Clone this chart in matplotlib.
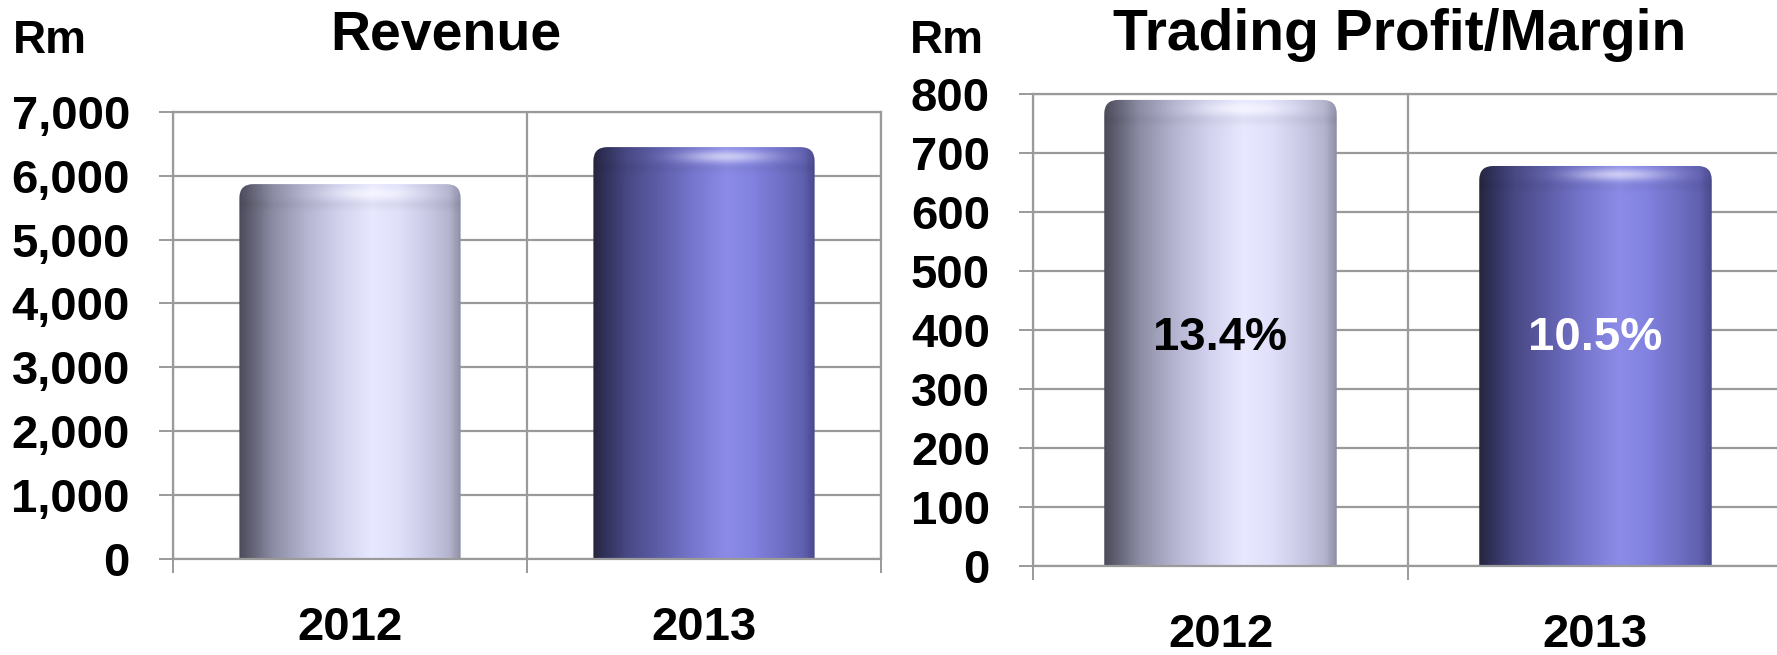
import numpy as np
import matplotlib
matplotlib.use("Agg")
import matplotlib.pyplot as plt
from matplotlib.colors import LinearSegmentedColormap
from matplotlib.patches import FancyBboxPatch

plt.rcParams["font.family"] = ["Liberation Sans", "DejaVu Sans"]
plt.rcParams["font.weight"] = "bold"

years = ["2012", "2013"]
revenue = [5870, 6450]
trading_profit = [790, 678]
margins = ["13.4%", "10.5%"]
margin_colors = ["black", "white"]

GRID = "#9a9a9a"
DPI = 100
FIG_W, FIG_H = 1777, 655

# light silver-lavender and deep periwinkle cylinder shading, left to right
light_stops = [(0.0, "#4c4c5c"), (0.04, "#5c5c6e"), (0.15, "#8c8ca4"),
               (0.30, "#b4b4d0"), (0.45, "#d2d2ee"), (0.60, "#e8e8ff"),
               (0.72, "#e0e0fa"), (0.85, "#cacae6"), (0.95, "#b4b4ce"),
               (1.0, "#9090a8")]
dark_stops = [(0.0, "#26263e"), (0.04, "#2e2e56"), (0.15, "#484884"),
              (0.30, "#5e5eaa"), (0.45, "#7676ce"), (0.60, "#8c8ce8"),
              (0.72, "#8282e0"), (0.85, "#7070c6"), (0.95, "#6060b0"),
              (1.0, "#4a4a8e")]
bar_maps = [LinearSegmentedColormap.from_list("light", light_stops),
            LinearSegmentedColormap.from_list("dark", dark_stops)]


def cylinder(ax, rect, cmap, px_x, px_y):
    """Paint a shaded, round-topped cylinder over a bar rectangle.

    px_x / px_y are data units per screen pixel along x and y.
    """
    x0, w, h = rect.get_x(), rect.get_width(), rect.get_height()
    below = 40 * px_y
    r_px = 14
    patch = FancyBboxPatch((x0, -below), w, h + below,
                           boxstyle="round,pad=0,rounding_size=%f" % (r_px * px_x),
                           mutation_aspect=px_y / px_x,
                           facecolor="none", edgecolor="none", zorder=2)
    ax.add_patch(patch)

    nx, ny = 300, 400
    u = np.linspace(0, 1, nx)
    ys = np.linspace(h, -below, ny)
    rgb = cmap(u)[:, :3][None, :, :].repeat(ny, axis=0)

    # soft glint along the rounded rim
    dist_px = (h - ys) / px_y
    gx = np.exp(-((u - 0.6) / 0.2) ** 2)
    gy = np.exp(-((dist_px - 9) / 6) ** 2)
    glow = 0.55 * gy[:, None] * gx[None, :]
    rgb = rgb + (1 - rgb) * glow[:, :, None]

    # faint shadow right under the rim
    shade = 0.04 * np.exp(-((dist_px - 20) / 5) ** 2)
    rgb = rgb * (1 - shade[:, None, None])

    im = ax.imshow(np.clip(rgb, 0, 1), extent=(x0, x0 + w, -below, h),
                   aspect="auto", interpolation="bilinear", zorder=2)
    im.set_clip_path(patch)


def style_axes(ax, ymax, step, fmt):
    ax.set_xlim(-0.5, 1.5)
    ax.set_ylim(0, ymax)
    ax.set_yticks(np.arange(0, ymax + 1, step))
    ax.set_yticklabels([fmt.format(v) for v in np.arange(0, ymax + 1, step)])
    ax.set_xticks([0, 1])
    ax.set_xticklabels(years)
    ax.set_xticks([-0.5, 0.5, 1.5], minor=True)
    ax.grid(True, which="major", axis="y", color=GRID, lw=1.6)
    ax.grid(True, which="minor", axis="x", color=GRID, lw=1.6)
    ax.set_axisbelow(True)
    for s in ax.spines.values():
        s.set_color(GRID)
        s.set_linewidth(1.6)
    ax.tick_params(axis="y", direction="out", length=10, width=1.4,
                   color=GRID, labelsize=34, pad=21)
    ax.tick_params(axis="x", which="major", length=0, labelsize=34, pad=34)
    ax.tick_params(axis="x", which="minor", direction="out", length=10,
                   width=1.4, color=GRID)
    for lab in ax.get_xticklabels() + ax.get_yticklabels():
        lab.set_fontweight("bold")


fig = plt.figure(figsize=(FIG_W / DPI, FIG_H / DPI), dpi=DPI)

# Revenue panel
ax1 = fig.add_axes([173 / FIG_W, (FIG_H - 558.7) / FIG_H,
                    708 / FIG_W, 446.7 / FIG_H])
style_axes(ax1, 7000, 1000, "{:,}")
bars1 = ax1.bar(range(len(years)), revenue, width=0.625, color="none",
                edgecolor="none")
px_x1 = 2.0 / 708
px_y1 = 7000 / 446.7
for rect, cmap in zip(bars1, bar_maps):
    cylinder(ax1, rect, cmap, px_x1, px_y1)
ax1.set_xlim(-0.5, 1.5)
ax1.set_ylim(0, 7000)

# Trading profit panel
ax2 = fig.add_axes([1033 / FIG_W, (FIG_H - 566) / FIG_H,
                    750 / FIG_W, 472 / FIG_H])
style_axes(ax2, 800, 100, "{:d}")
bars2 = ax2.bar(range(len(years)), trading_profit, width=0.62, color="none",
                edgecolor="none")
px_x2 = 2.0 / 750
px_y2 = 800 / 472
for rect, cmap in zip(bars2, bar_maps):
    cylinder(ax2, rect, cmap, px_x2, px_y2)
ax2.set_xlim(-0.5, 1.5)
ax2.set_ylim(0, 800)

for i, (txt, col) in enumerate(zip(margins, margin_colors)):
    ax2.text(i, 387, txt, ha="center", va="center", fontsize=34,
             fontweight="bold", color=col, zorder=5)

# titles and unit labels
fig.text(446 / FIG_W, 1 - 49 / FIG_H, "Revenue", ha="center",
         va="baseline", fontsize=40, fontweight="bold")
fig.text(1400 / FIG_W, 1 - 50 / FIG_H, "Trading Profit/Margin", ha="center",
         va="baseline", fontsize=41, fontweight="bold")
fig.text(13 / FIG_W, 1 - 53 / FIG_H, "Rm", ha="left", va="baseline",
         fontsize=33, fontweight="bold")
fig.text(910 / FIG_W, 1 - 53 / FIG_H, "Rm", ha="left", va="baseline",
         fontsize=33, fontweight="bold")

fig.savefig("out.png", dpi=DPI)
